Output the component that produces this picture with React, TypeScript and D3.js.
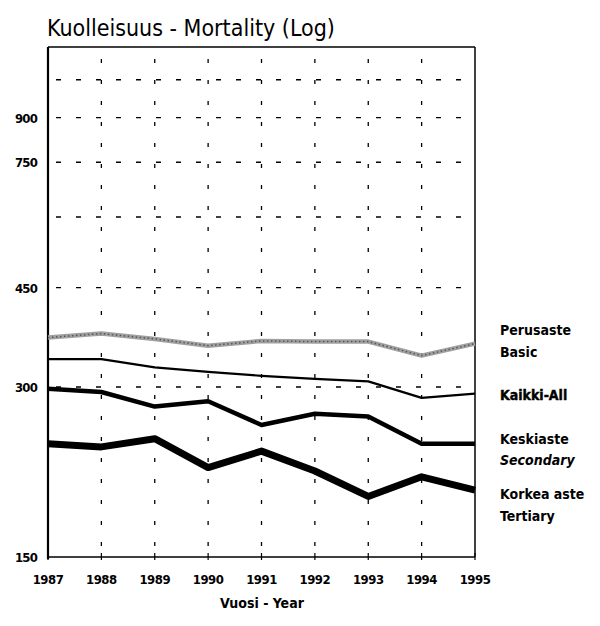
import React, { useRef, useEffect } from "react";
import * as d3 from "d3";

const years = [1987, 1988, 1989, 1990, 1991, 1992, 1993, 1994, 1995];
const basic = [367, 373, 365, 355, 362, 361, 361, 341, 358];
const all = [336, 336, 325, 319, 314, 310, 307, 287, 292];
const secondary = [298, 294, 277, 283, 257, 269, 266, 238, 238];
const tertiary = [238, 235, 243, 216, 231, 213, 192, 208, 197];
const yLabels = [150, 300, 450, 750, 900];
const yGrid = [300, 450, 600, 750, 900, 1050];

const font = "'Liberation Sans Narrow', 'DejaVu Sans Condensed', 'Liberation Sans', sans-serif";

const App = () => {
  const ref = useRef(null);

  useEffect(() => {
    if (!ref.current) return;
    const svg = d3.select(ref.current);
    svg.selectAll("*").remove();

    const left = 48, right = 475, top = 47, bottom = 557;
    const x = d3.scaleLinear().domain([1987, 1995]).range([left, right]);
    const y = d3.scaleLog().domain([150, 1200]).range([bottom, top]);

    svg.append("rect").attr("width", 600).attr("height", 626).attr("fill", "#fff");

    // title
    svg.append("text")
      .attr("x", 47).attr("y", 36)
      .style("font-family", font).style("font-size", "23px")
      .text("Kuolleisuus - Mortality (Log)");

    // grid
    const grid = svg.append("g").attr("stroke", "#000").attr("stroke-width", 1.3);
    grid.selectAll("line.h").data(yGrid).enter().append("line")
      .attr("x1", left).attr("x2", right)
      .attr("y1", (d: number) => y(d)).attr("y2", (d: number) => y(d))
      .attr("stroke-dasharray", "5,15")
      .attr("stroke-dashoffset", -8);
    grid.selectAll("line.v").data(years.slice(1, -1)).enter().append("line")
      .attr("x1", (d: number) => x(d)).attr("x2", (d: number) => x(d))
      .attr("y1", top).attr("y2", bottom)
      .attr("stroke-dasharray", "4,17")
      .attr("stroke-dashoffset", -12);

    // frame
    svg.append("line").attr("x1", left).attr("x2", right).attr("y1", top).attr("y2", top)
      .attr("stroke", "#000").attr("stroke-width", 1.5);
    svg.append("line").attr("x1", right).attr("x2", right).attr("y1", top).attr("y2", bottom)
      .attr("stroke", "#000").attr("stroke-width", 1.5);
    svg.append("line").attr("x1", left).attr("x2", right).attr("y1", bottom).attr("y2", bottom)
      .attr("stroke", "#000").attr("stroke-width", 1.5);
    svg.append("line").attr("x1", left).attr("x2", left).attr("y1", top).attr("y2", bottom + 2)
      .attr("stroke", "#000").attr("stroke-width", 2.2);

    // x ticks
    svg.selectAll("line.xt").data(years).enter().append("line")
      .attr("x1", (d: number) => x(d)).attr("x2", (d: number) => x(d))
      .attr("y1", bottom - 4).attr("y2", bottom + 3)
      .attr("stroke", "#000").attr("stroke-width", 1.2);

    // y labels
    svg.selectAll("text.yl").data(yLabels).enter().append("text")
      .attr("x", 37).attr("y", (d: number) => y(d) + 5)
      .attr("text-anchor", "end")
      .style("font-family", font).style("font-size", "13px").style("font-weight", "bold")
      .style("letter-spacing", "-0.8px")
      .text((d: number) => d);

    // x labels
    svg.selectAll("text.xl").data(years).enter().append("text")
      .attr("x", (d: number) => x(d)).attr("y", 584)
      .attr("text-anchor", "middle")
      .style("font-family", font).style("font-size", "13px").style("font-weight", "bold")
      .style("letter-spacing", "-0.5px")
      .text((d: number) => d);

    svg.append("text")
      .attr("x", 262).attr("y", 608).attr("text-anchor", "middle")
      .style("font-family", font).style("font-size", "14px").style("font-weight", "bold")
      .text("Vuosi - Year");

    const line = d3.line<number>()
      .x((_d: number, i: number) => x(years[i]))
      .y((d: number) => y(d));

    // Basic: grey textured
    svg.append("path").attr("d", line(basic)).attr("fill", "none")
      .attr("stroke", "#a0a0a0").attr("stroke-width", 4.5).attr("stroke-linejoin", "round");
    svg.append("path").attr("d", line(basic)).attr("fill", "none")
      .attr("stroke", "#555").attr("stroke-width", 1.5).attr("stroke-dasharray", "1.5,2.5");

    svg.append("path").attr("d", line(all)).attr("fill", "none")
      .attr("stroke", "#000").attr("stroke-width", 2.2).attr("stroke-linejoin", "round");
    svg.append("path").attr("d", line(secondary)).attr("fill", "none")
      .attr("stroke", "#000").attr("stroke-width", 4.5).attr("stroke-linejoin", "round");
    svg.append("path").attr("d", line(tertiary)).attr("fill", "none")
      .attr("stroke", "#000").attr("stroke-width", 7).attr("stroke-linejoin", "round");

    // legend
    const legend = [
      { t: "Perusaste", yy: 335, w: "bold", s: "normal" },
      { t: "Basic", yy: 357, w: "bold", s: "normal" },
      { t: "Kaikki-All", yy: 400, w: "900", s: "normal" },
      { t: "Keskiaste", yy: 444, w: "bold", s: "normal" },
      { t: "Secondary", yy: 465, w: "bold", s: "italic" },
      { t: "Korkea aste", yy: 499, w: "bold", s: "normal" },
      { t: "Tertiary", yy: 521, w: "bold", s: "normal" },
    ];
    svg.selectAll("text.lg").data(legend).enter().append("text")
      .attr("x", 500).attr("y", (d: any) => d.yy)
      .style("font-family", font).style("font-size", "14px")
      .style("font-weight", (d: any) => d.w).style("font-style", (d: any) => d.s)
      .attr("stroke", (d: any) => (d.w === "900" ? "#000" : "none"))
      .attr("stroke-width", 0.4)
      .text((d: any) => d.t);
  }, []);

  return <svg ref={ref} width={600} height={626} style={{ display: "block", margin: -8 }} />;
};

export default App;
